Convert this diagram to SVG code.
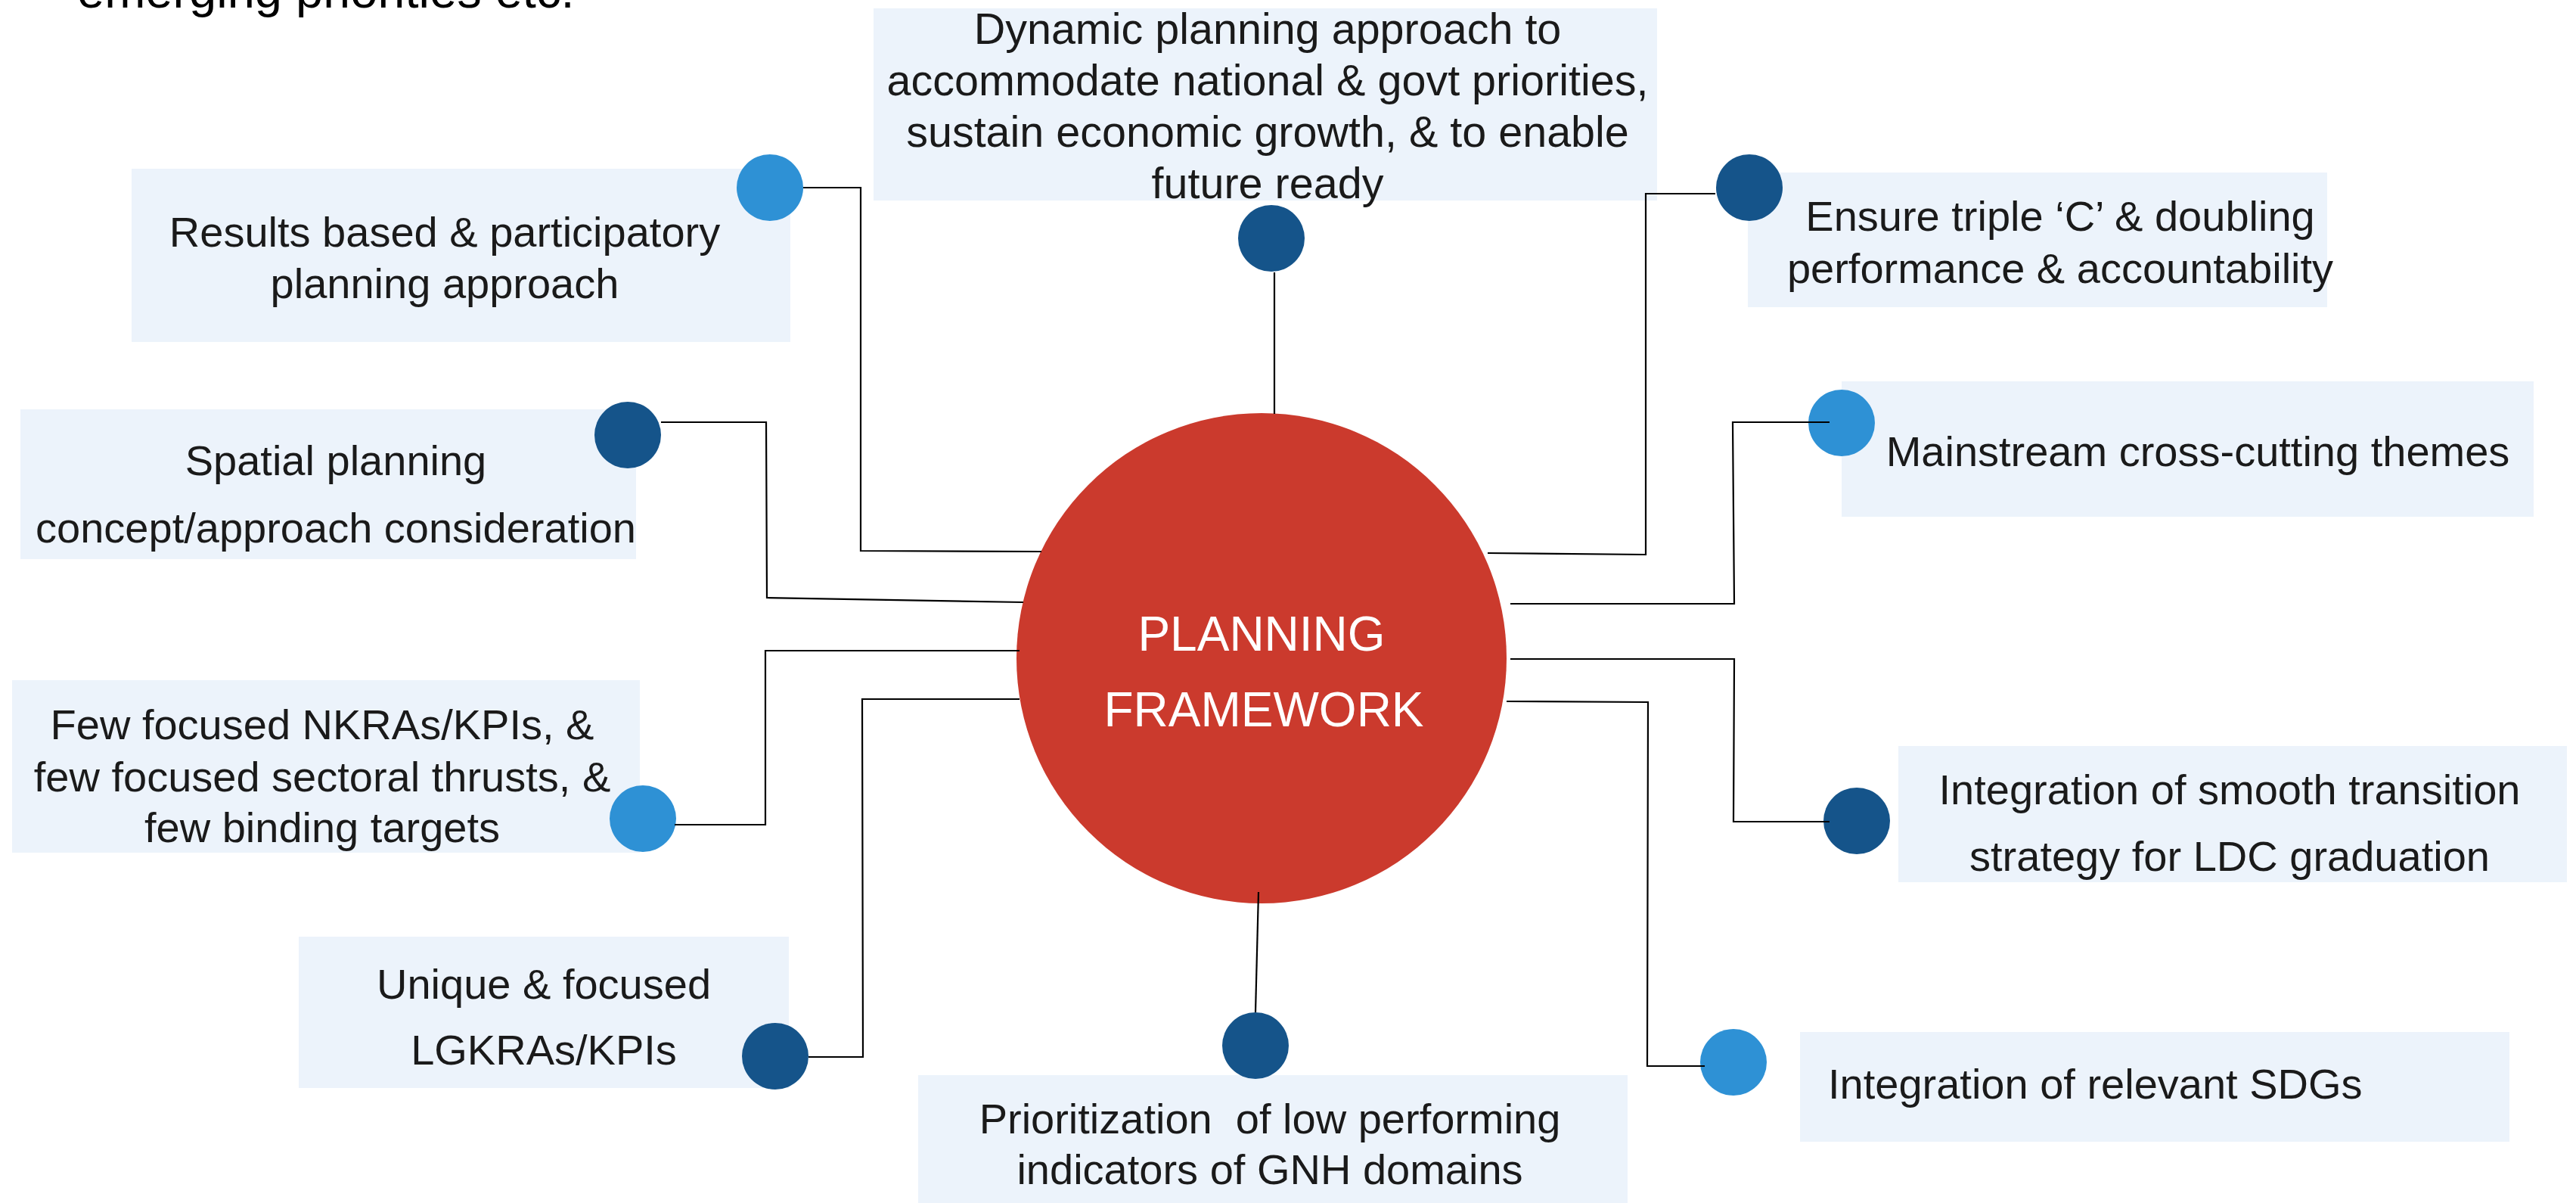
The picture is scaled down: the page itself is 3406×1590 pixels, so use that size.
<svg xmlns="http://www.w3.org/2000/svg" width="3406" height="1590" viewBox="0 0 3406 1590">
<style>
.box{fill:#ECF3FB}
.dk{fill:#15548A}
.lt{fill:#2E91D5}
.t{font-family:"Liberation Sans",Arial,sans-serif;font-size:56px;fill:#1a1a1a;text-anchor:middle}
.c{font-family:"Liberation Sans",Arial,sans-serif;font-size:64px;fill:#ffffff;text-anchor:middle}
.ln{fill:none;stroke:#000;stroke-width:2.2}
</style>
<rect x="0" y="0" width="3406" height="1590" fill="#ffffff"/>
<text x="102" y="10" font-family="Liberation Sans, Arial, sans-serif" font-size="65" fill="#000">emerging priorities etc.</text>

<g id="center">
<circle cx="1668" cy="870" r="324" fill="#CB3A2D"/>
<text class="c" x="1668" y="860">PLANNING</text>
<text class="c" x="1671" y="960">FRAMEWORK</text>
</g>

<g id="n-results">
<rect class="box" x="174" y="223" width="871" height="229"/>
<circle class="lt" cx="1018" cy="248" r="44"/>
<text class="t" x="588" y="326">Results based &amp; participatory</text>
<text class="t" x="588" y="394">planning approach</text>
</g>

<g id="n-dynamic">
<rect class="box" x="1155" y="11" width="1036" height="254"/>
<text class="t" x="1676" y="58" style="font-size:57.5px">Dynamic planning approach to</text>
<text class="t" x="1676" y="126" style="font-size:57.5px">accommodate national &amp; govt priorities,</text>
<text class="t" x="1676" y="194" style="font-size:57.5px">sustain economic growth, &amp; to enable</text>
<text class="t" x="1676" y="262" style="font-size:57.5px">future ready</text>
<circle class="dk" cx="1681" cy="315" r="44"/>
</g>

<g id="n-ensure">
<rect class="box" x="2311" y="228" width="766" height="178"/>
<circle class="dk" cx="2313" cy="248" r="44"/>
<text class="t" x="2724" y="305">Ensure triple ‘C’ &amp; doubling</text>
<text class="t" x="2724" y="374">performance &amp; accountability</text>
</g>

<g id="n-mainstream">
<rect class="box" x="2435" y="504" width="915" height="179"/>
<circle class="lt" cx="2435" cy="559" r="44"/>
<text class="t" x="2906" y="616">Mainstream cross-cutting themes</text>
</g>

<g id="n-spatial">
<rect class="box" x="27" y="541" width="814" height="198"/>
<circle class="dk" cx="830" cy="575" r="44"/>
<text class="t" x="444" y="628">Spatial planning</text>
<text class="t" x="444" y="717">concept/approach consideration</text>
</g>

<g id="n-few">
<rect class="box" x="16" y="899" width="830" height="228"/>
<text class="t" x="426" y="977">Few focused NKRAs/KPIs, &amp;</text>
<text class="t" x="426" y="1046">few focused sectoral thrusts, &amp;</text>
<text class="t" x="426" y="1113">few binding targets</text>
<circle class="lt" cx="850" cy="1082" r="44"/>
</g>

<g id="n-unique">
<rect class="box" x="395" y="1238" width="648" height="200"/>
<circle class="dk" cx="1025" cy="1396" r="44"/>
<text class="t" x="719" y="1320">Unique &amp; focused</text>
<text class="t" x="719" y="1407">LGKRAs/KPIs</text>
</g>

<g id="n-prioritization">
<rect class="box" x="1214" y="1421" width="938" height="169"/>
<circle class="dk" cx="1660" cy="1382" r="44"/>
<text class="t" x="1679" y="1498" xml:space="preserve">Prioritization  of low performing</text>
<text class="t" x="1679" y="1565">indicators of GNH domains</text>
</g>

<g id="n-ldc">
<rect class="box" x="2510" y="986" width="884" height="180"/>
<circle class="dk" cx="2455" cy="1085" r="44"/>
<text class="t" x="2948" y="1063">Integration of smooth transition</text>
<text class="t" x="2948" y="1151">strategy for LDC graduation</text>
</g>

<g id="n-sdg">
<rect class="box" x="2380" y="1364" width="938" height="145"/>
<circle class="lt" cx="2292" cy="1404" r="44"/>
<text class="t" x="2417" y="1452" style="text-anchor:start">Integration of relevant SDGs</text>
</g>

<g id="connectors">
<polyline class="ln" points="1062,248 1138,248 1138,728 1377,729"/>
<polyline class="ln" points="874,558 1013,558 1014,790 1353,796"/>
<polyline class="ln" points="892,1090 1012,1090 1012,860 1348,860"/>
<polyline class="ln" points="1069,1397 1141,1397 1140,924 1348,924"/>
<polyline class="ln" points="1685,360 1685,547"/>
<polyline class="ln" points="1664,1179 1660,1338"/>
<polyline class="ln" points="2268,256 2176,256 2176,733 1967,731"/>
<polyline class="ln" points="2419,558 2291,558 2293,798 1997,798"/>
<polyline class="ln" points="1997,871 2293,871 2292,1086 2419,1086"/>
<polyline class="ln" points="1992,927 2179,928 2178,1409 2254,1409"/>
</g>
</svg>
